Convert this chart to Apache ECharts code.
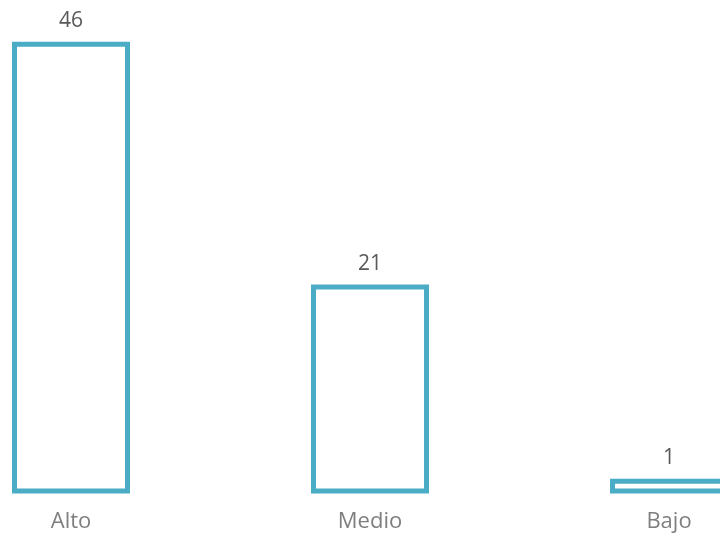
<!DOCTYPE html>
<html>
<head>
<meta charset="utf-8">
<script src="https://cdn.jsdelivr.net/npm/echarts@6/dist/echarts.min.js"></script>
<style>
html,body{margin:0;padding:0;background:#fff;}
#chart{width:720px;height:537px;}
</style>
</head>
<body>
<div id="chart"></div>
<script>
const categories = ['Alto', 'Medio', 'Bajo'];
const values = [46, 21, 1];

const BAR_W = 113;
const chart = echarts.init(document.getElementById('chart'), null, {renderer: 'canvas'});
chart.setOption({
  animation: false,
  backgroundColor: '#ffffff',
  grid: { left: 71, right: 51, top: 5.5, bottom: 46, containLabel: false },
  xAxis: {
    type: 'category',
    data: categories,
    boundaryGap: false,
    axisLine: { show: false },
    axisTick: { show: false },
    splitLine: { show: false },
    axisLabel: { color: '#7f7f7f', fontFamily: 'Open Sans', fontSize: 22, margin: 20 }
  },
  yAxis: {
    type: 'value',
    min: 0,
    max: 50,
    show: false,
    splitLine: { show: false }
  },
  series: [{
    type: 'custom',
    clip: false,
    data: values.map((v, i) => [i, v]),
    renderItem: function (params, api) {
      const top = api.coord([api.value(0), api.value(1)]);
      const base = api.coord([api.value(0), 0]);
      return {
        type: 'group',
        children: [
          {
            type: 'rect',
            shape: { x: top[0] - BAR_W / 2, y: top[1], width: BAR_W, height: base[1] - top[1] },
            style: { fill: '#ffffff', stroke: '#4BACC6', lineWidth: 5 }
          },
          {
            type: 'text',
            x: top[0],
            y: top[1] - 13,
            style: {
              text: String(api.value(1)),
              align: 'center',
              verticalAlign: 'bottom',
              fill: '#595959',
              fontFamily: 'Open Sans',
              fontSize: 21
            }
          }
        ]
      };
    }
  }]
});
</script>
</body>
</html>
